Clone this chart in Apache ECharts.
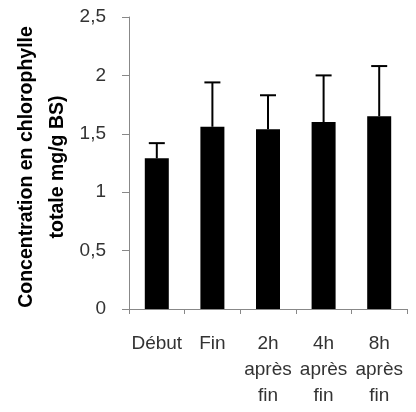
<!DOCTYPE html>
<html><head><meta charset="utf-8">
<script src="https://cdn.jsdelivr.net/npm/echarts@6/dist/echarts.min.js"></script>
<style>html,body{margin:0;padding:0;background:#fff}#c{width:416px;height:412px}</style>
</head><body><div id="c"></div>
<script>
const categories = ['Début', 'Fin', '2h\naprès\nfin', '4h\naprès\nfin', '8h\naprès\nfin'];
const means = [1.29, 1.56, 1.54, 1.60, 1.65];
const errors = [0.13, 0.38, 0.29, 0.40, 0.43];
const yTitle = 'Concentration en chlorophylle\ntotale mg/g BS)';

const chart = echarts.init(document.getElementById('c'), null, {renderer: 'canvas'});
const errData = means.map((m, i) => [i, m, m + errors[i]]);
chart.setOption({
  animation: false,
  grid: {left: 129, right: 9, top: 17, bottom: 103},
  xAxis: {
    type: 'category', data: categories,
    axisLine: {lineStyle: {color: '#888', width: 1}},
    axisTick: {show: true, length: 5, lineStyle: {color: '#888'}},
    axisLabel: {color: '#333', fontFamily: 'Liberation Sans, Arial', fontSize: 19, lineHeight: 26, margin: 22, interval: 0}
  },
  yAxis: {
    type: 'value', min: 0, max: 2.5, interval: 0.5,
    splitLine: {show: false},
    axisLine: {show: true, lineStyle: {color: '#888', width: 1}},
    axisTick: {show: true, length: 7, lineStyle: {color: '#888'}},
    axisLabel: {color: '#333', fontFamily: 'Liberation Sans, Arial', fontSize: 19, margin: 23,
      formatter: v => String(v).replace('.', ',')}
  },
  graphic: [{
    type: 'text', x: 42, y: 167, rotation: Math.PI / 2,
    style: {text: yTitle, fill: '#000', font: 'bold 19.5px "Liberation Sans", Arial',
      textAlign: 'center', textVerticalAlign: 'middle', lineHeight: 31}
  }],
  series: [{
    type: 'bar', data: means, barWidth: 24,
    itemStyle: {color: '#000'}
  }, {
    type: 'custom', data: errData, z: 5,
    renderItem: function (params, api) {
      const base = api.coord([api.value(0), api.value(1)]);
      const top = api.coord([api.value(0), api.value(2)]);
      const hw = 8;
      return {type: 'group', children: [
        {type: 'line', shape: {x1: top[0], y1: base[1], x2: top[0], y2: top[1]}, style: {stroke: '#000', lineWidth: 2}},
        {type: 'line', shape: {x1: top[0] - hw, y1: top[1], x2: top[0] + hw, y2: top[1]}, style: {stroke: '#000', lineWidth: 2}}
      ]};
    }
  }]
});
</script></body></html>
